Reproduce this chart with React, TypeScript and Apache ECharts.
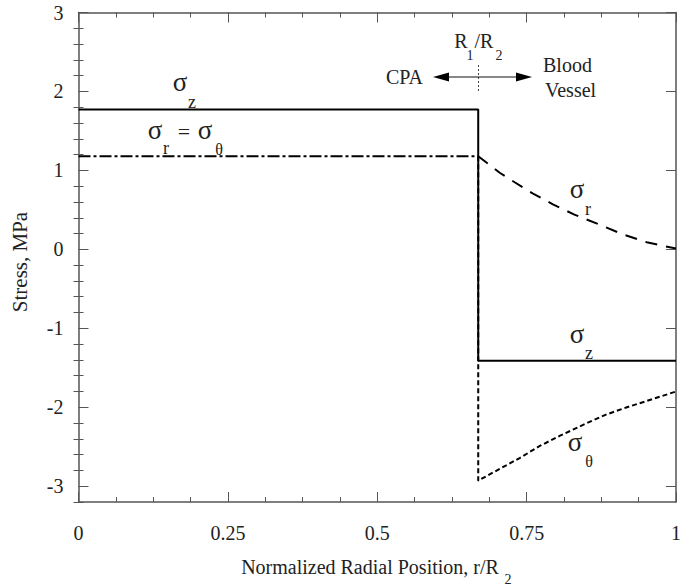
import React, { useEffect, useRef } from "react";
import * as echarts from "echarts";

// ---- data ----
const xTicks = [0, 0.25, 0.5, 0.75, 1];
const yMajor = [-3, -2, -1, 0, 1, 2, 3];
const yMinor = [-3.2, -2.8, -2.6, -2.4, -2.2, -1.8, -1.6, -1.4, -1.2, -0.8, -0.6, -0.4, -0.2, 0.2, 0.4, 0.6, 0.8, 1.2, 1.4, 1.6, 1.8, 2.2, 2.4, 2.6, 2.8];

const sigmaZ_r = [0, 0.669, 0.669, 1];
const sigmaZ = [1.77, 1.77, -1.41, -1.41];

const inner_r = [0, 0.669];
const innerSigma = [1.18, 1.18];

const sigmaR_r = [0.669, 0.705, 0.73, 0.76, 0.794, 0.83, 0.873, 0.911, 0.951, 1.0];
const sigmaR = [1.18, 0.97, 0.85, 0.71, 0.57, 0.44, 0.31, 0.19, 0.09, 0.01];

const sigmaT_r = [0.669, 0.669, 0.705, 0.739, 0.772, 0.806, 0.851, 0.884, 0.918, 0.951, 0.984, 1.0];
const sigmaT = [1.18, -2.93, -2.78, -2.64, -2.49, -2.36, -2.2, -2.09, -2.0, -1.92, -1.84, -1.8];

const zip = (a: number[], b: number[]) => a.map((v, i) => [v, b[i]]);

const FONT = "Liberation Serif";
const TXT = "#222";
const AX = "#555";

function txt(text: string, x: number, y: number, size: number, align = "center") {
  return {
    type: "text",
    x,
    y,
    silent: true,
    style: {
      text,
      fill: TXT,
      fontSize: size,
      fontFamily: FONT,
      align,
      verticalAlign: "middle",
    },
  };
}

export default function App() {
  const ref = useRef<HTMLDivElement>(null);
  useEffect(() => {
    if (!ref.current) return;
    const chart = echarts.init(ref.current, null, { renderer: "svg" });
    const tickStyle = { color: AX, width: 1 };
    const baseX = {
      type: "value",
      min: 0,
      max: 1,
      interval: 0.25,
      splitLine: { show: false },
      axisLine: { show: true, onZero: false, lineStyle: { color: AX, width: 1.5 } },
      axisTick: { show: true, inside: true, length: 10, lineStyle: tickStyle },
      minorTick: { show: true, splitNumber: 4, length: 5, lineStyle: tickStyle },
      minorSplitLine: { show: false },
    };
    const baseY = {
      type: "value",
      min: -3.2,
      max: 3,
      splitLine: { show: false },
    };
    chart.setOption({
      animation: false,
      backgroundColor: "#fff",
      textStyle: { fontFamily: FONT },
      grid: { left: 78.5, right: 10, top: 12.5, bottom: 84, containLabel: false },
      xAxis: [
        {
          ...baseX,
          position: "bottom",
          axisLabel: {
            show: true,
            margin: 21,
            fontSize: 20,
            fontFamily: FONT,
            color: TXT,
            customValues: xTicks,
          },
        },
        { ...baseX, position: "top", axisLabel: { show: false } },
      ],
      yAxis: [
        {
          ...baseY,
          position: "left",
          axisLine: { show: true, onZero: false, lineStyle: { color: AX, width: 1.5 } },
          axisTick: { show: true, inside: true, length: 10, lineStyle: tickStyle, customValues: yMajor },
          axisLabel: { show: true, margin: 15, fontSize: 20, fontFamily: FONT, color: TXT, customValues: yMajor },
        },
        {
          ...baseY,
          position: "left",
          axisLine: { show: false },
          axisTick: { show: true, inside: true, length: 5, lineStyle: tickStyle, customValues: yMinor },
          axisLabel: { show: false },
        },
        {
          ...baseY,
          position: "right",
          axisLine: { show: true, onZero: false, lineStyle: { color: AX, width: 1.5 } },
          axisTick: { show: true, inside: true, length: 10, lineStyle: tickStyle, customValues: yMajor },
          axisLabel: { show: false },
        },
        {
          ...baseY,
          position: "right",
          axisLine: { show: false },
          axisTick: { show: true, inside: true, length: 5, lineStyle: tickStyle, customValues: yMinor },
          axisLabel: { show: false },
        },
      ],
      series: [
        {
          type: "line",
          name: "sigma_theta",
          data: zip(sigmaT_r, sigmaT),
          symbol: "none",
          z: 2,
          lineStyle: { color: "#000", width: 2, type: [5, 3] },
        },
        {
          type: "line",
          name: "sigma_r",
          data: zip(sigmaR_r, sigmaR),
          symbol: "none",
          z: 2,
          lineStyle: { color: "#000", width: 2, type: [12, 9] },
        },
        {
          type: "line",
          name: "sigma_r = sigma_theta",
          data: zip(inner_r, innerSigma),
          symbol: "none",
          z: 2,
          lineStyle: { color: "#000", width: 2, type: [12, 3, 3, 3] },
        },
        {
          type: "line",
          name: "sigma_z",
          data: zip(sigmaZ_r, sigmaZ),
          symbol: "none",
          z: 3,
          lineStyle: { color: "#000", width: 2, type: "solid" },
        },
      ],
      graphic: [
        // axis names
        txt("Normalized Radial Position, r/R", 370, 567, 20),
        txt("2", 508, 579, 14),
        {
          type: "text",
          x: 20,
          y: 262,
          rotation: Math.PI / 2,
          silent: true,
          style: { text: "Stress, MPa", fill: TXT, fontSize: 21, fontFamily: FONT, align: "center", verticalAlign: "middle" },
        },
        // sigma labels
        txt("σ", 180, 82, 27),
        txt("z", 192, 102, 18),
        txt("σ", 155, 130, 27),
        txt("r", 166, 148, 18),
        txt("=", 184, 131, 22),
        txt("σ", 205, 130, 27),
        txt("θ", 219, 149, 16),
        txt("σ", 577, 189, 27),
        txt("r", 588, 209, 18),
        txt("σ", 577, 334, 27),
        txt("z", 589, 353, 18),
        txt("σ", 575, 442, 27),
        txt("θ", 589, 461, 16),
        // R1/R2 marker
        txt("R", 461, 41, 20),
        txt("1", 470, 55, 14),
        txt("/R", 484, 41, 20),
        txt("2", 499, 55, 14),
        {
          type: "line",
          silent: true,
          shape: { x1: 478.5, y1: 65, x2: 478.5, y2: 93 },
          style: { stroke: "#444", lineWidth: 1, lineDash: [2, 2] },
        },
        {
          type: "line",
          silent: true,
          shape: { x1: 445, y1: 77, x2: 520, y2: 77 },
          style: { stroke: "#111", lineWidth: 1.2 },
        },
        {
          type: "polygon",
          silent: true,
          shape: { points: [[433, 77], [449, 72.5], [449, 81.5]] },
          style: { fill: "#000" },
        },
        {
          type: "polygon",
          silent: true,
          shape: { points: [[532, 77], [516, 72.5], [516, 81.5]] },
          style: { fill: "#000" },
        },
        txt("CPA", 423, 77, 20, "right"),
        txt("Blood", 543, 65, 20, "left"),
        txt("Vessel", 545, 90, 20, "left"),
      ],
    });
    return () => chart.dispose();
  }, []);
  return (
    <div
      ref={ref}
      style={{ position: "absolute", left: 0, top: 0, width: 686, height: 586, background: "#fff" }}
    />
  );
}
